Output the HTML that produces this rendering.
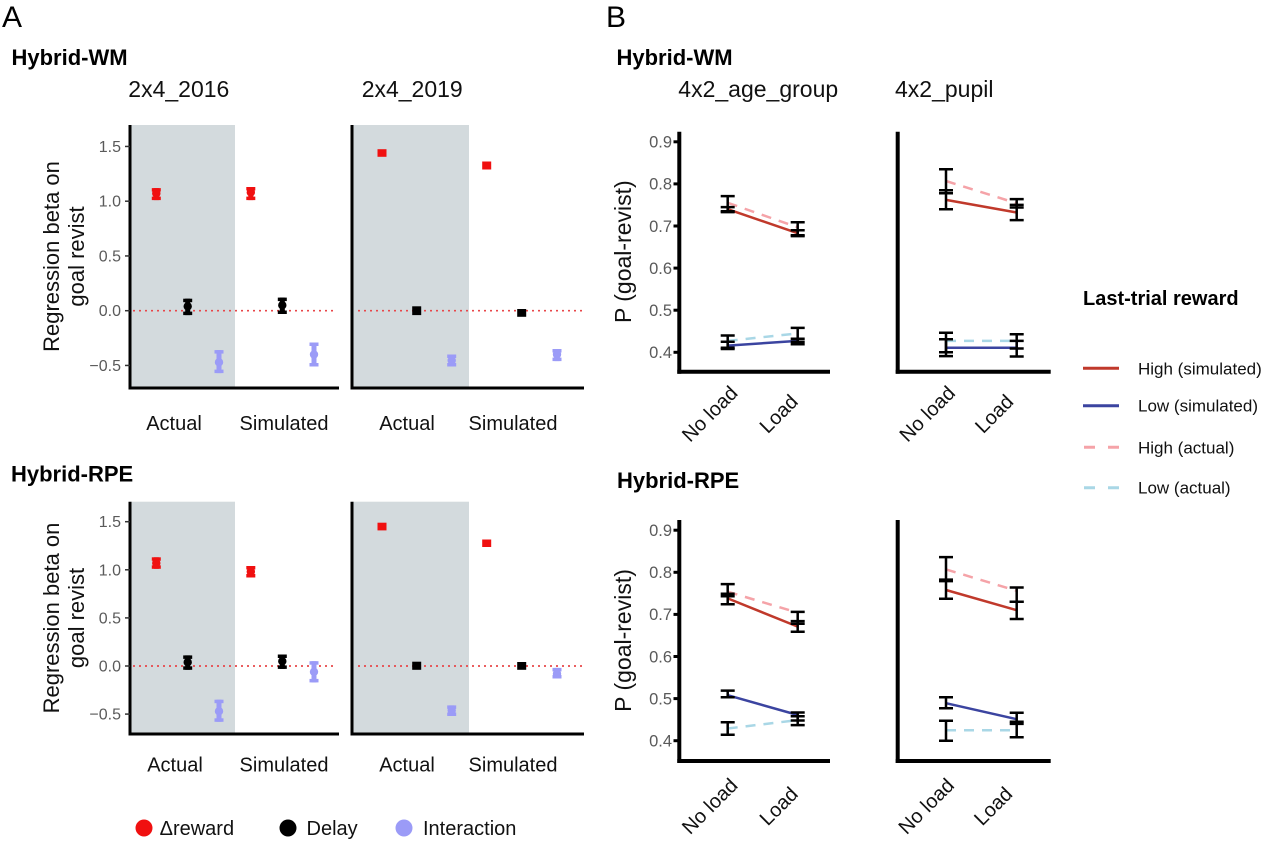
<!DOCTYPE html>
<html><head><meta charset="utf-8"><style>
html,body{margin:0;padding:0;background:#fff;}
svg{display:block;font-family:"Liberation Sans",Arial,sans-serif;}
</style></head><body>
<svg width="1265" height="842" viewBox="0 0 1265 842" xmlns="http://www.w3.org/2000/svg">
<rect width="1265" height="842" fill="#fff"/>

<!-- Panel labels -->
<text x="2" y="27" font-size="30" fill="#000">A</text>
<text x="606" y="27" font-size="30" fill="#000">B</text>
<text x="11.5" y="65" font-size="22" font-weight="bold" fill="#000">Hybrid-WM</text>
<text x="616.5" y="65" font-size="22" font-weight="bold" fill="#000">Hybrid-WM</text>
<text x="11" y="481.5" font-size="22" font-weight="bold" fill="#000">Hybrid-RPE</text>
<text x="617" y="488" font-size="22" font-weight="bold" fill="#000">Hybrid-RPE</text>

<text x="128.3" y="97" font-size="23" fill="#111">2x4_2016</text>
<text x="361.7" y="97" font-size="23" fill="#111">2x4_2019</text>
<text x="678.3" y="97" font-size="23" fill="#111">4x2_age_group</text>
<text x="895" y="97" font-size="23" fill="#111">4x2_pupil</text>

<!-- ===== Panel A top ===== -->
<rect x="130" y="125" width="105" height="263" fill="#d3dadd"/>
<rect x="352" y="125" width="117" height="263" fill="#d3dadd"/>
<line x1="133" y1="310.7" x2="337" y2="310.7" stroke="#e8474a" stroke-width="1.7" stroke-dasharray="2,4"/>
<line x1="358" y1="310.7" x2="582" y2="310.7" stroke="#e8474a" stroke-width="1.7" stroke-dasharray="2,4"/>
<g stroke="#000" stroke-width="3">
<line x1="130" y1="125" x2="130" y2="389.5"/><line x1="128.5" y1="388" x2="339" y2="388"/>
<line x1="352" y1="125" x2="352" y2="389.5"/><line x1="350.5" y1="388" x2="584" y2="388"/>
</g>
<g stroke="#333" stroke-width="1.5">
<line x1="125" y1="146.45" x2="130" y2="146.45"/><line x1="125" y1="201.2" x2="130" y2="201.2"/><line x1="125" y1="255.95" x2="130" y2="255.95"/><line x1="125" y1="310.7" x2="130" y2="310.7"/><line x1="125" y1="365.45" x2="130" y2="365.45"/>
</g>
<g font-size="16" fill="#5a5a5a" text-anchor="end">
<text x="121" y="152">1.5</text><text x="121" y="206.7">1.0</text><text x="121" y="261.5">0.5</text><text x="121" y="316.2">0.0</text><text x="121" y="371">−0.5</text>
</g>
<g font-size="22" fill="#111" text-anchor="middle">
<text transform="translate(59,256.5) rotate(-90)">Regression beta on</text>
<text transform="translate(84,256.5) rotate(-90)">goal revist</text>
</g>
<g font-size="20" fill="#111" text-anchor="middle">
<text x="174" y="430">Actual</text><text x="284" y="430">Simulated</text>
<text x="407" y="430">Actual</text><text x="513" y="430">Simulated</text>
</g>
<!-- points top-left -->
<g fill="#f01010"><rect x="151.8" y="188.1" width="9" height="3.5"/><rect x="151.8" y="196.6" width="9" height="3.5"/><rect x="153.8" y="188.1" width="5" height="12"/><circle cx="156.3" cy="193.5" r="4.2"/></g>
<g fill="#000"><rect x="183.2" y="298.7" width="9" height="3.5"/><rect x="183.2" y="311.6" width="9" height="3.5"/><rect x="185.2" y="298.7" width="5" height="16.4"/><circle cx="187.7" cy="306.3" r="4.2"/></g>
<g fill="#9b9bf7"><rect x="214.5" y="350.1" width="9" height="3.5"/><rect x="214.5" y="369.6" width="9" height="3.5"/><rect x="216.5" y="350.1" width="5" height="23"/><circle cx="219" cy="362.2" r="4.2"/></g>
<g fill="#f01010"><rect x="246.3" y="187" width="9" height="3.5"/><rect x="246.3" y="196.6" width="9" height="3.5"/><rect x="248.3" y="187" width="5" height="13.1"/><circle cx="250.8" cy="192.4" r="4.2"/></g>
<g fill="#000"><rect x="277.8" y="297.6" width="9" height="3.5"/><rect x="277.8" y="310.5" width="9" height="3.5"/><rect x="279.8" y="297.6" width="5" height="16.4"/><circle cx="282.3" cy="305.2" r="4.2"/></g>
<g fill="#9b9bf7"><rect x="309.5" y="342.5" width="9" height="3.5"/><rect x="309.5" y="363" width="9" height="3.5"/><rect x="311.5" y="342.5" width="5" height="24"/><circle cx="314" cy="354.5" r="4.2"/></g>
<!-- points top-right -->
<g fill="#f01010"><rect x="377.5" y="149.2" width="9" height="7.6"/></g>
<g fill="#000"><rect x="412.2" y="306.3" width="9" height="8.8"/></g>
<g fill="#9b9bf7"><rect x="447.2" y="354.5" width="9" height="3.5"/><rect x="447.2" y="363" width="9" height="3.5"/><rect x="449.2" y="354.5" width="5" height="12"/><circle cx="451.7" cy="360.5" r="4.2"/></g>
<g fill="#f01010"><rect x="482.2" y="161.5" width="9" height="8"/></g>
<g fill="#000"><rect x="517.2" y="309" width="9" height="7.8"/></g>
<g fill="#9b9bf7"><rect x="552.5" y="349" width="9" height="3.5"/><rect x="552.5" y="357.6" width="9" height="3.5"/><rect x="554.5" y="349" width="5" height="12.1"/><circle cx="557" cy="354.5" r="4.2"/></g>

<!-- ===== Panel A bottom ===== -->
<rect x="130" y="501.7" width="105" height="232.3" fill="#d3dadd"/>
<rect x="352" y="501.7" width="117" height="232.3" fill="#d3dadd"/>
<line x1="133" y1="666" x2="337" y2="666" stroke="#e8474a" stroke-width="1.7" stroke-dasharray="2,4"/>
<line x1="358" y1="666" x2="582" y2="666" stroke="#e8474a" stroke-width="1.7" stroke-dasharray="2,4"/>
<g stroke="#000" stroke-width="3">
<line x1="130" y1="501.7" x2="130" y2="735.5"/><line x1="128.5" y1="734" x2="339" y2="734"/>
<line x1="352" y1="501.7" x2="352" y2="735.5"/><line x1="350.5" y1="734" x2="584" y2="734"/>
</g>
<g stroke="#333" stroke-width="1.5">
<line x1="125" y1="521.7" x2="130" y2="521.7"/><line x1="125" y1="569.8" x2="130" y2="569.8"/><line x1="125" y1="617.9" x2="130" y2="617.9"/><line x1="125" y1="666" x2="130" y2="666"/><line x1="125" y1="714.1" x2="130" y2="714.1"/>
</g>
<g font-size="16" fill="#5a5a5a" text-anchor="end">
<text x="121" y="527.2">1.5</text><text x="121" y="575.3">1.0</text><text x="121" y="623.4">0.5</text><text x="121" y="671.5">0.0</text><text x="121" y="719.6">−0.5</text>
</g>
<g font-size="22" fill="#111" text-anchor="middle">
<text transform="translate(59,618) rotate(-90)">Regression beta on</text>
<text transform="translate(84,618) rotate(-90)">goal revist</text>
</g>
<g font-size="20" fill="#111" text-anchor="middle">
<text x="175" y="771.5">Actual</text><text x="284" y="771.5">Simulated</text>
<text x="407" y="771.5">Actual</text><text x="513" y="771.5">Simulated</text>
</g>
<g fill="#f01010"><rect x="151.8" y="557.3" width="9" height="3.5"/><rect x="151.8" y="565.3" width="9" height="3.5"/><rect x="153.8" y="557.3" width="5" height="11.5"/><circle cx="156.3" cy="563.1" r="4.2"/></g>
<g fill="#000"><rect x="183.2" y="655.4" width="9" height="3.5"/><rect x="183.2" y="666.3" width="9" height="3.5"/><rect x="185.2" y="655.4" width="5" height="14.4"/><circle cx="187.7" cy="662.2" r="4.2"/></g>
<g fill="#9b9bf7"><rect x="214.5" y="699.7" width="9" height="3.5"/><rect x="214.5" y="718.3" width="9" height="3.5"/><rect x="216.5" y="699.7" width="5" height="22.1"/><circle cx="219" cy="711.2" r="4.2"/></g>
<g fill="#f01010"><rect x="246.3" y="566" width="9" height="3.5"/><rect x="246.3" y="574" width="9" height="3.5"/><rect x="248.3" y="566" width="5" height="11.5"/><circle cx="250.8" cy="571.7" r="4.2"/></g>
<g fill="#000"><rect x="277.8" y="654.5" width="9" height="3.5"/><rect x="277.8" y="665.4" width="9" height="3.5"/><rect x="279.8" y="654.5" width="5" height="14.4"/><circle cx="282.3" cy="661.2" r="4.2"/></g>
<g fill="#9b9bf7"><rect x="309.5" y="661.2" width="9" height="3.5"/><rect x="309.5" y="678.9" width="9" height="3.5"/><rect x="311.5" y="661.2" width="5" height="21.2"/><circle cx="314" cy="671.8" r="4.2"/></g>
<g fill="#f01010"><rect x="377.5" y="522.7" width="9" height="7.7"/></g>
<g fill="#000"><rect x="412.2" y="661.7" width="9" height="8.1"/></g>
<g fill="#9b9bf7"><rect x="447.2" y="705.4" width="9" height="3.5"/><rect x="447.2" y="712.5" width="9" height="3.5"/><rect x="449.2" y="705.4" width="5" height="10.6"/><circle cx="451.7" cy="710.3" r="4.2"/></g>
<g fill="#f01010"><rect x="482.2" y="539.5" width="9" height="7.5"/></g>
<g fill="#000"><rect x="517.2" y="662" width="9" height="7.8"/></g>
<g fill="#9b9bf7"><rect x="552.5" y="667.9" width="9" height="3.5"/><rect x="552.5" y="675" width="9" height="3.5"/><rect x="554.5" y="667.9" width="5" height="10.6"/><circle cx="557" cy="673.7" r="4.2"/></g>

<!-- Legend A -->
<circle cx="144" cy="828" r="8.5" fill="#f01010"/>
<circle cx="288" cy="828" r="8.5" fill="#000"/>
<circle cx="404" cy="828" r="8.5" fill="#9b9bf7"/>
<g font-size="20" fill="#111">
<text x="159.6" y="835">Δreward</text><text x="306.5" y="835">Delay</text><text x="423" y="835">Interaction</text>
</g>

<!-- ===== Panel B ===== -->
<!-- axes -->
<g stroke="#000" stroke-width="4">
<line x1="679.3" y1="131.7" x2="679.3" y2="373.7"/><line x1="677.3" y1="371.7" x2="830" y2="371.7"/>
<line x1="897.7" y1="131.7" x2="897.7" y2="373.7"/><line x1="895.7" y1="371.7" x2="1050.7" y2="371.7"/>
<line x1="679.3" y1="520" x2="679.3" y2="763"/><line x1="677.3" y1="761" x2="830" y2="761"/>
<line x1="897.7" y1="520" x2="897.7" y2="763"/><line x1="895.7" y1="761" x2="1050.7" y2="761"/>
</g>
<g stroke="#000" stroke-width="3">
<line x1="673.5" y1="141.8" x2="679" y2="141.8"/><line x1="673.5" y1="183.9" x2="679" y2="183.9"/><line x1="673.5" y1="226" x2="679" y2="226"/><line x1="673.5" y1="268.1" x2="679" y2="268.1"/><line x1="673.5" y1="310.2" x2="679" y2="310.2"/><line x1="673.5" y1="352.3" x2="679" y2="352.3"/>
<line x1="673.5" y1="530.2" x2="679" y2="530.2"/><line x1="673.5" y1="572.3" x2="679" y2="572.3"/><line x1="673.5" y1="614.4" x2="679" y2="614.4"/><line x1="673.5" y1="656.5" x2="679" y2="656.5"/><line x1="673.5" y1="698.6" x2="679" y2="698.6"/><line x1="673.5" y1="740.7" x2="679" y2="740.7"/>
</g>
<g font-size="16.5" fill="#5a5a5a" text-anchor="end">
<text x="672" y="147.6">0.9</text><text x="672" y="189.7">0.8</text><text x="672" y="231.8">0.7</text><text x="672" y="273.9">0.6</text><text x="672" y="316">0.5</text><text x="672" y="358.1">0.4</text>
<text x="672" y="536">0.9</text><text x="672" y="578.1">0.8</text><text x="672" y="620.2">0.7</text><text x="672" y="662.3">0.6</text><text x="672" y="704.4">0.5</text><text x="672" y="746.5">0.4</text>
</g>
<g font-size="23" fill="#111" text-anchor="middle">
<text transform="translate(631,251.7) rotate(-90)">P (goal-revist)</text>
<text transform="translate(631,640.5) rotate(-90)">P (goal-revist)</text>
</g>
<g font-size="20" fill="#111" text-anchor="middle">
<text transform="translate(709.5,413.7) rotate(-45)" dy="0.35em">No load</text>
<text transform="translate(778.5,413.7) rotate(-45)" dy="0.35em">Load</text>
<text transform="translate(927,413.7) rotate(-45)" dy="0.35em">No load</text>
<text transform="translate(994,413.7) rotate(-45)" dy="0.35em">Load</text>
<text transform="translate(709.5,806) rotate(-45)" dy="0.35em">No load</text>
<text transform="translate(778.5,806) rotate(-45)" dy="0.35em">Load</text>
<text transform="translate(926,806) rotate(-45)" dy="0.35em">No load</text>
<text transform="translate(993,806) rotate(-45)" dy="0.35em">Load</text>
</g>

<!-- lines top-left -->
<g stroke-width="2.5" fill="none">
<line x1="727.7" y1="202.8" x2="797.7" y2="227.3" stroke="#f5a3a8" stroke-dasharray="10,8"/>
<line x1="727.7" y1="209.2" x2="797.7" y2="233.2" stroke="#c0392b"/>
<line x1="727.7" y1="340.9" x2="797.7" y2="333.4" stroke="#a9d7e6" stroke-dasharray="10,8"/>
<line x1="727.7" y1="345.6" x2="797.7" y2="340.9" stroke="#3b44a0"/>
<!-- top-right -->
<line x1="946" y1="181" x2="1016.7" y2="203.3" stroke="#f5a3a8" stroke-dasharray="10,8"/>
<line x1="946" y1="199.9" x2="1016.7" y2="212.5" stroke="#c0392b"/>
<line x1="946" y1="340.9" x2="1016.7" y2="340.9" stroke="#a9d7e6" stroke-dasharray="10,8"/>
<line x1="946" y1="347.7" x2="1016.7" y2="347.7" stroke="#3b44a0"/>
<!-- bottom-left -->
<line x1="727.7" y1="591.7" x2="797.7" y2="612.7" stroke="#f5a3a8" stroke-dasharray="10,8"/>
<line x1="727.7" y1="598.4" x2="797.7" y2="626.6" stroke="#c0392b"/>
<line x1="727.7" y1="728.5" x2="797.7" y2="720.1" stroke="#a9d7e6" stroke-dasharray="10,8"/>
<line x1="727.7" y1="695.2" x2="797.7" y2="715" stroke="#3b44a0"/>
<!-- bottom-right -->
<line x1="946" y1="569.4" x2="1016.7" y2="590.8" stroke="#f5a3a8" stroke-dasharray="10,8"/>
<line x1="946" y1="590" x2="1016.7" y2="610.2" stroke="#c0392b"/>
<line x1="946" y1="730.2" x2="1016.7" y2="730.2" stroke="#a9d7e6" stroke-dasharray="10,8"/>
<line x1="946" y1="703.2" x2="1016.7" y2="719.2" stroke="#3b44a0"/>
</g>

<!-- error bars B -->
<g stroke="#000" stroke-width="2.5" fill="none">
<!-- top-left NL -->
<path d="M727.7 196.1V212.1M720.7 196.1H734.7M720.7 212.1H734.7"/>
<path d="M727.7 207.1V211.3M720.7 207.1H734.7M720.7 211.3H734.7"/>
<path d="M797.7 222.2V236.1M790.7 222.2H804.7M790.7 236.1H804.7"/>
<path d="M797.7 230.2V235.3M790.7 230.2H804.7M790.7 235.3H804.7"/>
<path d="M727.7 335.5V349M720.7 335.5H734.7M720.7 349H734.7"/>
<path d="M727.7 341.8V347.7M720.7 341.8H734.7M720.7 347.7H734.7"/>
<path d="M797.7 327.9V344.3M790.7 327.9H804.7M790.7 344.3H804.7"/>
<path d="M797.7 338.8V341.8M790.7 338.8H804.7M790.7 341.8H804.7"/>
<!-- top-right -->
<path d="M946 169.2V193.2M939 169.2H953M939 193.2H953"/>
<path d="M946 190.2V209.2M939 190.2H953M939 209.2H953"/>
<path d="M1016.7 199.1V207.5M1009.7 199.1H1023.7M1009.7 207.5H1023.7"/>
<path d="M1016.7 204.9V220.1M1009.7 204.9H1023.7M1009.7 220.1H1023.7"/>
<path d="M946 332.7V352.3M939 332.7H953M939 352.3H953"/>
<path d="M946 339.3V356.1M939 339.3H953M939 356.1H953"/>
<path d="M1016.7 334.2V348.5M1009.7 334.2H1023.7M1009.7 348.5H1023.7"/>
<path d="M1016.7 340.9V356.5M1009.7 340.9H1023.7M1009.7 356.5H1023.7"/>
<!-- bottom-left -->
<path d="M727.7 584.1V604.3M720.7 584.1H734.7M720.7 604.3H734.7"/>
<path d="M727.7 593.8V596.3M720.7 593.8H734.7M720.7 596.3H734.7"/>
<path d="M797.7 611.9V631.7M790.7 611.9H804.7M790.7 631.7H804.7"/>
<path d="M797.7 621.1V623.7M790.7 621.1H804.7M790.7 623.7H804.7"/>
<path d="M727.7 690.6V697.3M720.7 690.6H734.7M720.7 697.3H734.7"/>
<path d="M727.7 722.2V734.8M720.7 722.2H734.7M720.7 734.8H734.7"/>
<path d="M797.7 712.5V725.1M790.7 712.5H804.7M790.7 725.1H804.7"/>
<path d="M797.7 716.3V720.5M790.7 716.3H804.7M790.7 720.5H804.7"/>
<!-- bottom-right -->
<path d="M946 557.1V581.1M939 557.1H953M939 581.1H953"/>
<path d="M946 581.1V598.8M939 579.6H953M939 598.8H953"/>
<path d="M1016.7 587.5V601.8M1009.7 587.5H1023.7M1009.7 601.8H1023.7"/>
<path d="M1016.7 601.8V619M1009.7 601.8H1023.7M1009.7 619H1023.7"/>
<path d="M946 697.3V708.3M939 697.3H953M939 708.3H953"/>
<path d="M946 720.7V740.7M939 720.7H953M939 740.7H953"/>
<path d="M1016.7 712.7V723.9M1009.7 712.7H1023.7M1009.7 723.9H1023.7"/>
<path d="M1016.7 721.8V737.3M1009.7 721.8H1023.7M1009.7 737.3H1023.7"/>
</g>

<!-- Legend B -->
<text x="1083" y="305" font-size="20" font-weight="bold" fill="#000">Last-trial reward</text>
<g stroke-width="3">
<line x1="1083" y1="368.3" x2="1119" y2="368.3" stroke="#c0392b"/>
<line x1="1083" y1="405.7" x2="1119" y2="405.7" stroke="#3b44a0"/>
<line x1="1084" y1="447.3" x2="1122" y2="447.3" stroke="#f5a3a8" stroke-dasharray="11,13"/>
<line x1="1084" y1="487.7" x2="1122" y2="487.7" stroke="#a9d7e6" stroke-dasharray="11,13"/>
</g>
<g font-size="17" fill="#111">
<text x="1138" y="374.3">High (simulated)</text>
<text x="1138" y="411.7">Low (simulated)</text>
<text x="1138" y="453.3">High (actual)</text>
<text x="1138" y="493.7">Low (actual)</text>
</g>
</svg>
</body></html>
